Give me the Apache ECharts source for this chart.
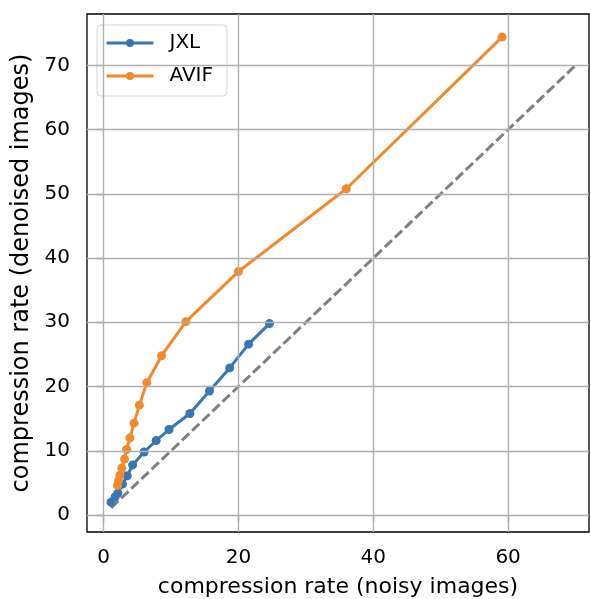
<!DOCTYPE html>
<html lang="en">
<head>
<meta charset="UTF-8">
<title>compression rate</title>
<script src="https://cdn.jsdelivr.net/npm/echarts@6/dist/echarts.min.js"></script>
<style>
  html, body { margin: 0; padding: 0; background: #fff; }
  #main { width: 591px; height: 599px; }
</style>
</head>
<body>
<div id="main"></div>
<script>
// data
var jxlX = [1.1, 1.7, 2.1, 2.8, 3.5, 4.3, 6.0, 7.8, 9.7, 12.8, 15.7, 18.7, 21.5, 24.6];
var jxlY = [2.0, 2.8, 3.4, 4.8, 6.1, 7.8, 9.8, 11.6, 13.3, 15.8, 19.3, 22.9, 26.6, 29.8];
var avifX = [2.05, 2.2, 2.4, 2.7, 3.1, 3.4, 3.9, 4.5, 5.3, 6.4, 8.6, 12.2, 20.0, 36.0, 59.1];
var avifY = [4.6, 5.3, 6.2, 7.3, 8.7, 10.2, 12.0, 14.3, 17.1, 20.6, 24.8, 30.1, 37.9, 50.8, 74.4];
var diagX = [1.1, 70];
var xTicks = [0, 20, 40, 60];
var yTicks = [0, 10, 20, 30, 40, 50, 60, 70];

function pairs(xs, ys) {
    return xs.map(function (x, i) { return [x, ys[i]]; });
}

var font = 'DejaVu Sans';
var myChart = echarts.init(document.getElementById('main'));
var option = {
    animation: false,
    textStyle: { fontFamily: font },
    grid: {
        left: 87, right: 2, top: 14, bottom: 67,
        outerBoundsMode: 'none',
        show: true, borderColor: '#000', borderWidth: 1.3, backgroundColor: 'transparent'
    },
    legend: {
        orient: 'vertical',
        left: 97, top: 25,
        padding: [8, 14, 10, 8],
        itemGap: 13,
        itemWidth: 47, itemHeight: 10,
        backgroundColor: '#fff',
        borderColor: '#d4d4d4', borderWidth: 1, borderRadius: 4,
        lineStyle: { width: 3 },
        textStyle: { fontSize: 20, color: '#000', fontFamily: font, padding: [0, 0, 0, 11] },
        data: ['JXL', 'AVIF']
    },
    xAxis: {
        type: 'value',
        min: -2.47, max: 72.0,
        name: 'compression rate (noisy images)',
        nameLocation: 'middle', nameGap: 44,
        nameTextStyle: { fontSize: 22, color: '#000', fontFamily: font },
        axisLine: { show: false },
        axisTick: { show: true, customValues: xTicks, length: 7, lineStyle: { color: '#000', width: 1.2 } },
        axisLabel: { customValues: xTicks, fontSize: 20, color: '#000', margin: 16, fontFamily: font },
        splitLine: { show: false }
    },
    yAxis: {
        type: 'value',
        min: -2.65, max: 78.0,
        name: 'compression rate (denoised images)',
        nameLocation: 'middle', nameGap: 53, nameRotate: 90,
        nameTextStyle: { fontSize: 24, color: '#000', fontFamily: font },
        axisLine: { show: false },
        axisTick: { show: true, customValues: yTicks, length: 7, lineStyle: { color: '#000', width: 1.2 } },
        axisLabel: { customValues: yTicks, fontSize: 20, color: '#000', margin: 17, fontFamily: font },
        splitLine: { show: false }
    },
    series: [
        {
            name: 'grid',
            type: 'line',
            data: [],
            silent: true,
            markLine: {
                silent: true,
                symbol: 'none',
                label: { show: false },
                lineStyle: { color: '#b0b0b0', type: 'solid', width: 1.4 },
                data: xTicks.map(function (v) { return { xAxis: v }; })
                    .concat(yTicks.map(function (v) { return { yAxis: v }; }))
            }
        },
        {
            name: 'diag',
            type: 'line',
            data: diagX.map(function (x) { return [x, x]; }),
            symbol: 'none',
            silent: true,
            lineStyle: { color: '#808080', type: [10, 4], width: 3 }
        },
        {
            name: 'JXL',
            type: 'line',
            data: pairs(jxlX, jxlY),
            symbol: 'circle', symbolSize: 9,
            itemStyle: { color: '#3a76b0' },
            lineStyle: { color: '#3a76b0', width: 3 }
        },
        {
            name: 'AVIF',
            type: 'line',
            data: pairs(avifX, avifY),
            symbol: 'circle', symbolSize: 9,
            itemStyle: { color: '#f08a2e' },
            lineStyle: { color: '#f08a2e', width: 3 }
        }
    ]
};
myChart.setOption(option);
</script>
</body>
</html>
